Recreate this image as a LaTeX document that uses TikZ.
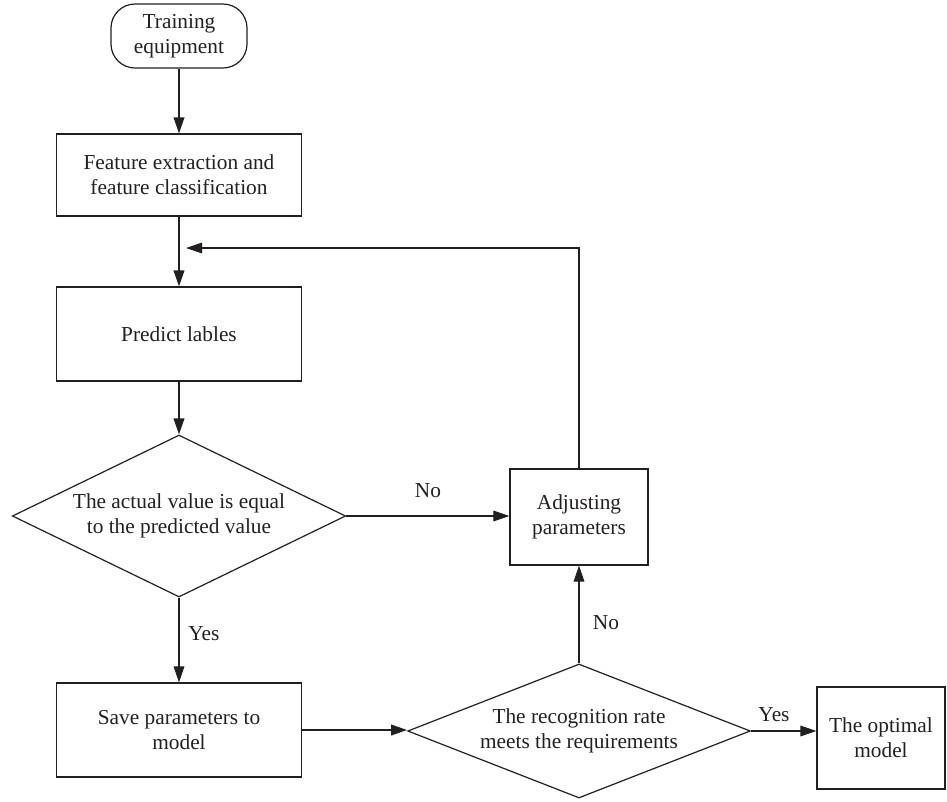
\documentclass[tikz,border=0pt]{standalone}
\usepackage{fontspec}
\setmainfont{Liberation Serif}
\usetikzlibrary{shapes.geometric,arrows.meta}
\definecolor{ink}{HTML}{231F20}
\begin{document}
\begin{tikzpicture}[
        x=0.75pt, y=-0.75pt,
        every node/.style={text=ink, font=\fontsize{16}{19}\selectfont, align=center},
        box/.style={rectangle, draw=ink, line width=0.9pt, inner sep=2pt},
        decision/.style={diamond, draw=ink, line width=0.9pt, inner sep=0pt},
        arrow/.style={-{Triangle[length=12pt,width=8pt]}, draw=ink, line width=0.8pt},
        thickarrow/.style={arrow, line width=1.3pt},
        lbl/.style={font=\fontsize{16}{19}\selectfont}
    ]
\useasboundingbox (0,0) rectangle (947,801);

% Process nodes
        \node[box, rounded corners=18pt, minimum width=102pt, minimum height=48pt] (train) at (179,36) {Training\\equipment};
        \node[box, minimum width=184pt, minimum height=61.5pt] (feat) at (179,175) {Feature extraction and\\feature classification};
        \node[box, minimum width=184pt, minimum height=70.5pt] (pred) at (179,334) {Predict lables};
        \node[decision, minimum width=250pt, minimum height=121.5pt, aspect=2.06] (equal) at (179,516) {The actual value is equal\\to the predicted value};
        \node[box, minimum width=103.5pt, minimum height=72pt] (adjust) at (579,517) {Adjusting\\parameters};
        \node[box, minimum width=184pt, minimum height=70.5pt] (save) at (179,730) {Save parameters to\\model};
        \node[decision, minimum width=257pt, minimum height=100.5pt, aspect=2.56] (rate) at (579,731) {The recognition rate\\meets the requirements};
        \node[box, minimum width=96pt, minimum height=76.5pt] (optimal) at (881,738) {The optimal\\model};
        \coordinate (back) at (186,248);

% Arrows
        \draw[thickarrow] (train) -- (feat);
        \draw[thickarrow] (feat) -- (pred);
        \draw[thickarrow] (pred) -- (equal);
        \draw[arrow] (equal.east) -- (equal.east -| adjust.west);
        \draw[arrow] (equal) -- (save);
        \draw[thickarrow] (save.east) -- (save.east -| rate.west);
        \draw[arrow] (rate.north) -- (adjust.south);
        \draw[arrow] (rate.east) -- (rate.east -| optimal.west);
        \draw[arrow] (adjust.north) |- (back);

% Labels
        \node[lbl] (no1) at (428,491) {No};
        \node[lbl] (yes1) at (204,634) {Yes};
        \node[lbl] (no2) at (606,623) {No};
        \node[lbl] (yes2) at (774,715) {Yes};

    \end{tikzpicture}
\end{document}
